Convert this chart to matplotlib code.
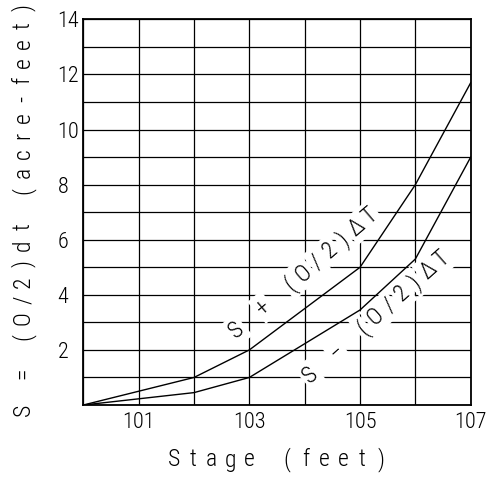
import numpy as np
import matplotlib
matplotlib.use("Agg")
import matplotlib.pyplot as plt
from matplotlib import transforms

# Stage-storage-outflow relation
stage = [100, 102, 103, 105, 106, 107]
s_plus = [0.0, 1.0, 2.0, 5.0, 8.0, 11.7]
s_minus = [0.0, 0.45, 1.0, 3.45, 5.3, 9.0]

x_ticks = [100, 101, 102, 103, 104, 105, 106, 107]
x_tick_labels = ["", "101", "", "103", "", "105", "", "107"]
y_ticks = list(range(0, 15))
y_tick_labels = [str(v) if v > 0 and v % 2 == 0 else "" for v in y_ticks]

x_label = "Stage (feet)"
y_label = "S = (O/2)dt (acre-feet)"
plus_label = "S + (O/2)ΔT"
minus_label = "S \u2212 (O/2)ΔT"

FONT = dict(family=["Roboto Condensed", "Lato", "DejaVu Sans"],
            weight="light", color="black")
TICK_SIZE = 16
LABEL_SIZE = 17

fig = plt.figure(figsize=(4.89, 4.84), dpi=100)
ax = fig.add_axes([0.1704, 0.1632, 0.7922, 0.7968])
ax.set_xlim(100, 107)
ax.set_ylim(0, 14)

ax.set_xticks(x_ticks)
ax.set_xticklabels(x_tick_labels, fontsize=TICK_SIZE, **FONT)
ax.set_yticks(y_ticks)
ax.set_yticklabels(y_tick_labels, fontsize=TICK_SIZE, ha="left", **FONT)
ax.tick_params(axis="both", length=0)
ax.tick_params(axis="x", pad=5)
ax.tick_params(axis="y", pad=18.5)

ax.grid(True, color="black", linewidth=0.9)
ax.set_axisbelow(True)
for sp in ax.spines.values():
    sp.set_linewidth(1.3)
    sp.set_zorder(6)

ax.plot(stage, s_plus, color="black", linewidth=1.0, zorder=5)
ax.plot(stage, s_minus, color="black", linewidth=1.0, zorder=5)


def spaced_text(s, base, step, angle, masked=False):
    """Place characters one by one at a fixed advance along a direction."""
    ca, sa = np.cos(np.radians(angle)), np.sin(np.radians(angle))
    for i, ch in enumerate(s):
        if ch == " ":
            continue
        tr = transforms.offset_copy(base[0], fig=fig, x=i * step * ca,
                                    y=i * step * sa, units="dots")
        kw = {}
        if masked:
            kw["bbox"] = dict(facecolor="white", edgecolor="none", pad=2.0)
        fig.text(base[1], base[2], ch, transform=tr, rotation=angle,
                 rotation_mode="anchor", ha="center", va="center",
                 fontsize=LABEL_SIZE, zorder=4, **FONT, **kw)


ident = transforms.IdentityTransform()
spaced_text(x_label, (ident, 174, 24), 18.8, 0)
spaced_text(y_label, (ident, 23, 74), 18.3, 90)

# curve labels, laid along the curves
spaced_text(plus_label, (ax.transData, 102.77, 2.72), 17.5, 40.5, masked=True)
spaced_text(minus_label, (ax.transData, 104.10, 1.09), 17.5, 41.5, masked=True)

fig.savefig("out.png", dpi=100)
